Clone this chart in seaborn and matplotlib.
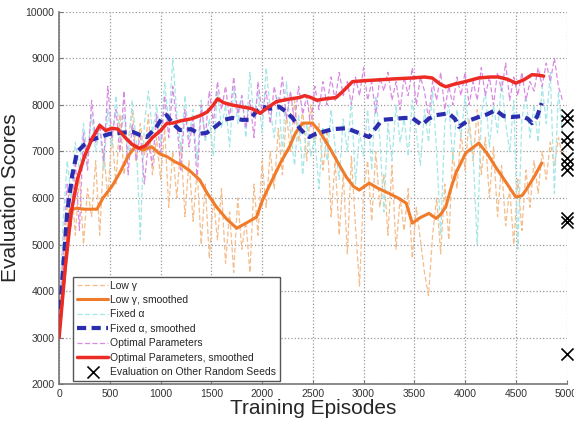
import numpy as np
import pandas as pd
import matplotlib
matplotlib.use("Agg")
import matplotlib.pyplot as plt
import seaborn as sns

# raw evaluation scores, one every 40 episodes (0 .. 4960)
episodes = list(range(0, 4961, 40))

low_gamma = [
    3000, 4500, 5800, 6300, 5200, 6500, 5000, 6200, 5600, 6800,
    5200, 7000, 6000, 7400, 6300, 7800, 6500, 7200, 7900, 6800,
    7600, 6900, 7800, 6500, 7300, 6400, 7500, 5800, 7000, 6000,
    7200, 5600, 6800, 5500, 6600, 5000, 6300, 4700, 6000, 5100,
    6200, 4600, 5700, 4400, 6000, 4900, 5500, 4400, 6300, 5200,
    6800, 5800, 7000, 6200, 7500, 6500, 7800, 7000, 8100, 7200,
    7900, 6800, 8000, 7200, 7600, 6600, 7400, 5600, 6800, 5200,
    6500, 4800, 6900, 5400, 4100, 6200, 6800, 5500, 7000, 5800,
    6500, 5200, 6700, 4900, 6000, 5300, 6200, 4700, 5800, 5100,
    4400, 3900, 5200, 6000, 4800, 6300, 5100, 7000, 6200, 7400,
    6600, 7700, 6800, 7900, 6500, 7300, 6000, 7100, 5600, 6700,
    5400, 6200, 5000, 6400, 5300, 6600, 5800, 6800, 6100, 7000,
    6400, 7200, 6700, 7300, 6900,
]

fixed_alpha = [
    3300, 5500, 6800, 6000, 7200, 6600, 7600, 6900, 7800, 7000,
    7500, 6600, 7900, 7100, 8200, 7300, 7800, 6900, 8100, 7200,
    5100, 7600, 8300, 7400, 8000, 7200, 8500, 7600, 9000, 7800,
    7000, 8200, 7300, 7900, 6800, 8100, 7200, 7700, 6900, 8300,
    7500, 8000, 7100, 8400, 7600, 8200, 7300, 8700, 7700, 8300,
    7400, 8800, 7900, 7300, 8200, 7000, 8500, 7400, 6700, 7800,
    6500, 7600, 6900, 7300, 6200, 7500, 6800, 7900, 7100, 6400,
    7700, 7000, 8100, 6300, 7400, 6900, 7900, 6600, 8200, 7300,
    5700, 7600, 6800, 8000, 7200, 7700, 6900, 8100, 7400, 6700,
    7900, 7200, 8300, 7000, 5200, 7600, 8000, 6800, 7900, 7300,
    8200, 7500, 6900, 5000, 7800, 8300, 7100, 8000, 7400, 8500,
    7600, 7000, 8100, 4900, 7700, 8200, 7300, 8000, 7200, 8400,
    7600, 8700, 6100, 8300, 7400,
]

optimal = [
    3000, 4800, 6300, 5400, 6800, 5300, 7400, 6600, 8100, 7200,
    7600, 6800, 8400, 7300, 7900, 7000, 8300, 6500, 7600, 6800,
    7400, 6300, 7200, 6700, 7800, 6900, 8200, 7300, 8400, 7600,
    6600, 7900, 7100, 7700, 6400, 8000, 7300, 8300, 7600, 8500,
    7900, 8400, 7700, 8600, 7800, 8200, 7500, 8100, 7300, 8500,
    7800, 8300, 7600, 8400, 7900, 8600, 7700, 8300, 7600, 8400,
    7800, 8200, 7500, 8400, 7900, 8500, 8000, 8600, 8100, 8700,
    8200, 8500, 8000, 8600, 8200, 8800, 8100, 8500, 7800, 8600,
    8300, 8700, 8100, 8500, 7900, 8600, 8200, 8800, 8000, 8600,
    8300, 7700, 8500, 8100, 8700, 7900, 8400, 8000, 8600, 8200,
    8700, 8000, 8500, 8100, 8800, 8200, 8600, 8000, 8700, 8300,
    8900, 8100, 8600, 8200, 8700, 8100, 8500, 8300, 8800, 8400,
    8900, 8500, 9000, 8400, 8100,
]

# smoothed curves
low_gamma_sm_x = [0, 60, 110, 177, 250, 373, 432, 520, 600, 680, 747, 825, 913, 990, 1070,
                  1140, 1208, 1290, 1385, 1460, 1550, 1650, 1750, 1850, 1945, 2005, 2100, 2180,
                  2270, 2330, 2400, 2495, 2560, 2660, 2750, 2830, 2900, 2957, 3055, 3150, 3250,
                  3340, 3420, 3480, 3560, 3645, 3713, 3760, 3810, 3860, 3910, 4008, 4135, 4220,
                  4300, 4400, 4500, 4560, 4600, 4680, 4755]
low_gamma_sm = [3100, 4500, 5750, 5780, 5760, 5760, 6000, 6250, 6550, 6900, 7100, 7030, 7100, 6950, 6880,
                6780, 6710, 6580, 6390, 6100, 5810, 5550, 5350, 5470, 5590, 5960, 6390, 6750,
                7100, 7400, 7610, 7610, 7450, 7100, 6750, 6450, 6250, 6170, 6320, 6200, 6100,
                6000, 5890, 5460, 5580, 5670, 5560, 5650, 5810, 6200, 6540, 6970, 7180, 6950,
                6670, 6350, 6020, 6050, 6170, 6450, 6750]

fixed_alpha_sm_x = [0, 40, 80, 130, 177, 250, 320, 403, 500, 600, 727, 800, 864, 950, 1010, 1060,
                    1120, 1190, 1300, 1380, 1454, 1550, 1620, 1710, 1800, 1876, 1940, 2005, 2080,
                    2170, 2240, 2300, 2370, 2420, 2465, 2530, 2594, 2700, 2830, 2950, 3055, 3100,
                    3183, 3300, 3400, 3480, 3530, 3575, 3640, 3713, 3840, 3900, 3940, 4020, 4135,
                    4220, 4300, 4380, 4460, 4560, 4620, 4660, 4710, 4755]
fixed_alpha_sm = [3300, 4500, 5700, 6500, 6990, 7150, 7250, 7310, 7380, 7400, 7420, 7350, 7310, 7500, 7700, 7780,
                  7600, 7460, 7480, 7380, 7400, 7550, 7680, 7720, 7680, 7680, 7850, 7960, 7920,
                  7960, 7850, 7720, 7500, 7380, 7310, 7380, 7420, 7480, 7500, 7400, 7310, 7450,
                  7680, 7700, 7720, 7720, 7640, 7570, 7700, 7780, 7820, 7700, 7530, 7650, 7740,
                  7800, 7890, 7760, 7740, 7760, 7700, 7610, 7750, 8040]

optimal_sm_x = [0, 60, 120, 180, 250, 330, 400, 460, 520, 580, 650, 720, 790, 850, 920, 1000,
                1060, 1120, 1200, 1300, 1400, 1460, 1520, 1560, 1620, 1700, 1800, 1900, 1980,
                2060, 2140, 2250, 2370, 2420, 2480, 2540, 2620, 2730, 2800, 2890, 3000, 3155,
                3300, 3480, 3600, 3675, 3760, 3810, 3900, 4000, 4135, 4250, 4330, 4420, 4500,
                4580, 4660, 4720, 4775]
optimal_sm = [3000, 4500, 5700, 6400, 6900, 7300, 7560, 7450, 7500, 7480, 7300, 7150, 7070, 7120, 7300, 7450,
              7600, 7610, 7660, 7700, 7780, 7850, 8000, 8130, 8050, 8000, 7960, 7920, 7820,
              7950, 8070, 8120, 8160, 8200, 8160, 8100, 8130, 8160, 8300, 8500, 8520, 8540,
              8560, 8580, 8600, 8580, 8440, 8390, 8450, 8500, 8580, 8600, 8600, 8550, 8470,
              8540, 8650, 8640, 8620]

# final evaluations with other random seeds
seed_x = [5000] * 10
seed_scores = [7780, 7650, 7320, 7150, 6870, 6730, 6600, 5580, 5480, 2650]

sns.set_style("white")
plt.rcParams['font.family'] = ['Liberation Sans', 'DejaVu Sans']

fig = plt.figure(figsize=(5.74, 4.24), dpi=100)
ax = fig.add_axes([0.103, 0.094, 0.884, 0.878])

noisy_lw = 0.9
sns.lineplot(x=episodes, y=low_gamma, ax=ax, color='#f4bd8c', lw=noisy_lw,
             linestyle=(0, (4, 2)), label='Low γ', zorder=2)
sns.lineplot(x=low_gamma_sm_x, y=low_gamma_sm, ax=ax, color='#ef7b2b', lw=2.2,
             label='Low γ, smoothed', zorder=4)
sns.lineplot(x=episodes, y=fixed_alpha, ax=ax, color='#a6e6e6', lw=noisy_lw,
             linestyle=(0, (4, 2)), label='Fixed α', zorder=2)
sns.lineplot(x=fixed_alpha_sm_x, y=fixed_alpha_sm, ax=ax, color='#2a2eae', lw=3,
             linestyle=(0, (2.2, 1.3)), label='Fixed α, smoothed', zorder=5)
sns.lineplot(x=episodes, y=optimal, ax=ax, color='#d98be3', lw=noisy_lw,
             linestyle=(0, (4, 2)), label='Optimal Parameters', zorder=3)
sns.lineplot(x=optimal_sm_x, y=optimal_sm, ax=ax, color='#ec2b25', lw=2.5,
             label='Optimal Parameters, smoothed', zorder=6)
sns.scatterplot(x=seed_x, y=seed_scores, ax=ax, marker='x', color='black', s=75,
                linewidth=1.2, label='Evaluation on Other Random Seeds', zorder=7,
                clip_on=False)

ax.set_xlim(0, 5000)
ax.set_ylim(2000, 10000)
ax.set_xticks(range(0, 5001, 500))
ax.set_yticks(range(2000, 10001, 1000))
ax.grid(True, linestyle=':', color='#999999', linewidth=0.9)
ax.tick_params(labelsize=7.5, labelcolor='#333333', direction='in', length=3,
               left=True, bottom=True, color='#777777')
for s in ['top', 'right']:
    ax.spines[s].set_visible(False)
for s in ['left', 'bottom']:
    ax.spines[s].set_color('#777777')
    ax.spines[s].set_linewidth(1.2)

ax.set_xlabel('Training Episodes', fontsize=15, labelpad=0)
ax.set_ylabel('Evaluation Scores', fontsize=15, labelpad=4)

leg = ax.legend(loc='lower left', bbox_to_anchor=(0.027, 0.008), fontsize=7.5,
                frameon=True, fancybox=False, edgecolor='#555555', framealpha=1,
                handlelength=3, borderpad=0.4, labelspacing=0.42, handletextpad=0.2,
                borderaxespad=0)
leg.get_frame().set_linewidth(1.0)

fig.savefig('out.png', dpi=100)
